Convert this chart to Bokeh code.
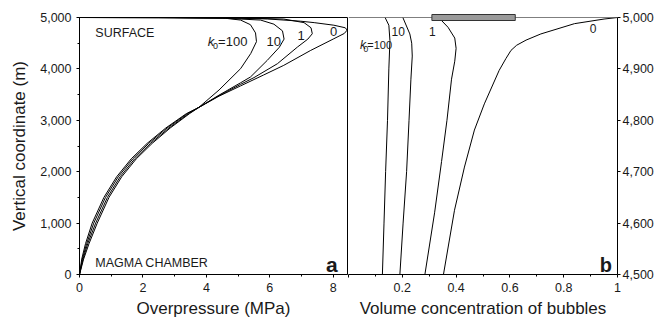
from bokeh.plotting import figure
from bokeh.layouts import row
from bokeh.models import Range1d, FixedTicker, NumeralTickFormatter, Label, Span
from bokeh.embed import file_html
from bokeh.resources import INLINE

FONT = "Liberation Sans"
INK = "#1a1a1a"

# ---------------- Panel a: overpressure (MPa) vs vertical coordinate (m)
a_k0_x = [0, 0.07, 0.19, 0.40, 0.77, 1.17, 1.63, 2.13, 2.72, 3.37, 3.76, 4.40, 5.08, 5.80, 6.44, 7.29, 8.02, 8.35, 8.44, 8.38, 8.02, 7.40, 6.97, 5.92, 4.50, 2.50, 0]
a_k0_h = [0, 300, 600, 1000, 1500, 1900, 2250, 2550, 2850, 3130, 3250, 3470, 3670, 3880, 4069, 4360, 4587, 4690, 4755, 4800, 4850, 4900, 4928, 4972, 4992, 4998, 5000]
a_k1_x = [0, 0.09, 0.225, 0.45, 0.82, 1.22, 1.68, 2.18, 2.76, 3.40, 3.76, 4.40, 5.08, 5.50, 6.24, 6.87, 7.20, 7.34, 7.30, 7.08, 6.44, 5.00, 2.50, 0]
a_k1_h = [0, 300, 600, 1000, 1500, 1900, 2250, 2550, 2850, 3130, 3250, 3480, 3700, 3830, 4101, 4424, 4580, 4684, 4800, 4900, 4970, 4992, 4998, 5000]
a_k10_x = [0, 0.11, 0.26, 0.51, 0.88, 1.28, 1.74, 2.24, 2.82, 3.44, 3.76, 4.40, 5.08, 5.39, 5.92, 6.30, 6.45, 6.40, 6.13, 5.71, 4.50, 2.50, 0]
a_k10_h = [0, 300, 600, 1000, 1500, 1900, 2250, 2550, 2850, 3130, 3250, 3490, 3730, 3842, 4166, 4420, 4580, 4740, 4870, 4950, 4988, 4997, 5000]
a_k100_x = [0, 0.13, 0.30, 0.56, 0.93, 1.33, 1.79, 2.29, 2.86, 3.47, 3.76, 4.40, 5.08, 5.40, 5.58, 5.55, 5.39, 5.08, 4.60, 3.00, 0]
a_k100_h = [0, 300, 600, 1000, 1500, 1900, 2250, 2550, 2850, 3130, 3250, 3590, 4005, 4300, 4530, 4700, 4860, 4950, 4985, 4997, 5000]

a_xticks = [0, 2, 4, 6, 8]
a_xminor = [1, 3, 5, 7]
a_yticks = [0, 1000, 2000, 3000, 4000, 5000]
a_yminor = [500, 1500, 2500, 3500, 4500]

# ---------------- Panel b: volume concentration of bubbles vs vertical coordinate (m)
b_k100_v = [0.126, 0.132, 0.138, 0.145, 0.150, 0.154, 0.150, 0.136]
b_k100_h = [4500, 4600, 4700, 4800, 4900, 4955, 4985, 5000]
b_k10_v = [0.191, 0.203, 0.216, 0.225, 0.232, 0.237, 0.235, 0.228, 0.202]
b_k10_h = [4500, 4600, 4700, 4800, 4880, 4925, 4950, 4968, 5000]
b_k1_v = [0.284, 0.320, 0.346, 0.366, 0.383, 0.395, 0.400, 0.395, 0.370, 0.335]
b_k1_h = [4500, 4620, 4720, 4800, 4880, 4915, 4940, 4960, 4981, 5000]
b_k0_v = [0.353, 0.394, 0.431, 0.468, 0.505, 0.560, 0.585, 0.604, 0.625, 0.660, 0.715, 0.840, 0.950, 1.0]
b_k0_h = [4500, 4625, 4709, 4781, 4832, 4897, 4920, 4936, 4946, 4956, 4968, 4988, 4997, 5000]

b_xticks = [0, 0.2, 0.4, 0.6, 0.8, 1.0]
b_xminor = [0.1, 0.3, 0.5, 0.7, 0.9]
b_yticks = [4500, 4600, 4700, 4800, 4900, 5000]

bar_v = [0.31, 0.62]   # grey bar along the surface
bar_h = 5000


def style_axis(ax, standoff):
    ax.axis_line_color = "black"
    ax.axis_line_width = 1
    ax.major_tick_line_color = "black"
    ax.minor_tick_line_color = "black"
    ax.major_tick_in = 0
    ax.major_tick_out = 3
    ax.minor_tick_in = 0
    ax.minor_tick_out = 2
    ax.major_label_text_font = FONT
    ax.major_label_text_font_size = "12.5px"
    ax.major_label_text_color = INK
    ax.major_label_standoff = standoff
    ax.axis_label_text_font = FONT
    ax.axis_label_text_font_size = "17px"
    ax.axis_label_text_font_style = "normal"
    ax.axis_label_text_color = INK


def lab(p, x, y, text, size="13px", style="normal", align="left"):
    p.add_layout(Label(x=x, y=y, text=text, text_font=FONT, text_font_size=size,
                       text_font_style=style, text_color=INK, text_align=align,
                       text_baseline="alphabetic"))


# ---------------- figure a
pa = figure(width=348, height=320, output_backend="svg", toolbar_location=None,
            x_range=Range1d(0, 8.45), y_range=Range1d(0, 5000),
            min_border_left=79, min_border_right=1, min_border_top=17, min_border_bottom=45)
pa.grid.visible = False
pa.outline_line_color = "black"
pa.outline_line_width = 1
pa.background_fill_color = "white"
pa.border_fill_color = "white"

for xs, hs in [(a_k0_x, a_k0_h), (a_k1_x, a_k1_h), (a_k10_x, a_k10_h), (a_k100_x, a_k100_h)]:
    pa.line(xs, hs, line_color="black", line_width=1)

style_axis(pa.xaxis[0], 5)
style_axis(pa.yaxis[0], 5)
pa.xaxis[0].ticker = FixedTicker(ticks=a_xticks, minor_ticks=a_xminor)
pa.yaxis[0].ticker = FixedTicker(ticks=a_yticks, minor_ticks=a_yminor)
pa.yaxis[0].formatter = NumeralTickFormatter(format="0,0")
pa.xaxis[0].axis_label = "Overpressure (MPa)"
pa.yaxis[0].axis_label = "Vertical coordinate (m)"
pa.xaxis[0].axis_label_standoff = 4
pa.yaxis[0].axis_label_standoff = 8

lab(pa, 0.50, 4708, "SURFACE", size="12.5px")
lab(pa, 0.50, 215, "MAGMA CHAMBER", size="12.5px")
lab(pa, 8.14, 201, "a", size="21px", style="bold", align="right")
lab(pa, 4.04, 4527, "k", style="italic")
lab(pa, 4.21, 4436, "0", size="9px")
lab(pa, 4.37, 4527, "=100")
lab(pa, 5.90, 4527, "10")
lab(pa, 6.87, 4657, "1")
lab(pa, 7.90, 4721, "0")

# ---------------- figure b
pb = figure(width=310, height=320, output_backend="svg", toolbar_location=None,
            x_range=Range1d(0, 1), y_range=Range1d(4500, 5000), y_axis_location="right",
            min_border_left=0, min_border_right=41, min_border_top=17, min_border_bottom=45)
pb.grid.visible = False
pb.outline_line_color = None
pb.background_fill_color = "white"
pb.border_fill_color = "white"
pb.add_layout(Span(location=bar_h, dimension="width", line_color="black", line_width=1))

for vs, hs in [(b_k0_v, b_k0_h), (b_k1_v, b_k1_h), (b_k10_v, b_k10_h), (b_k100_v, b_k100_h)]:
    pb.line(vs, hs, line_color="black", line_width=1)

bar = pb.rect(x=[(bar_v[0] + bar_v[1]) / 2], y=[bar_h], width=[bar_v[1] - bar_v[0]],
              height=6, height_units="screen", fill_color="#9a9a9a",
              line_color="#333333", line_width=1)
bar.level = "overlay"

style_axis(pb.xaxis[0], 5)
style_axis(pb.yaxis[0], 2)
pb.xaxis[0].ticker = FixedTicker(ticks=b_xticks, minor_ticks=b_xminor)
pb.xaxis[0].major_label_overrides = {0: "", 0.2: "0.2", 0.4: "0.4", 0.6: "0.6", 0.8: "0.8", 1: "1"}
pb.yaxis[0].ticker = FixedTicker(ticks=b_yticks, minor_ticks=[])
pb.yaxis[0].formatter = NumeralTickFormatter(format="0,0")
pb.xaxis[0].axis_label = "Volume concentration of bubbles"
pb.xaxis[0].axis_label_standoff = 4

lab(pb, 0.979, 4518, "b", size="20px", style="bold", align="right")
lab(pb, 0.043, 4946, "k", size="12px", style="italic")
lab(pb, 0.056, 4938, "0", size="8.5px")
lab(pb, 0.070, 4946, "=100", size="11px")
lab(pb, 0.160, 4973, "10", size="12px")
lab(pb, 0.299, 4973, "1", size="12px")
lab(pb, 0.897, 4979, "0", size="12px")

layout = row(pa, pb)
open("out.html", "w").write(file_html(layout, INLINE))
